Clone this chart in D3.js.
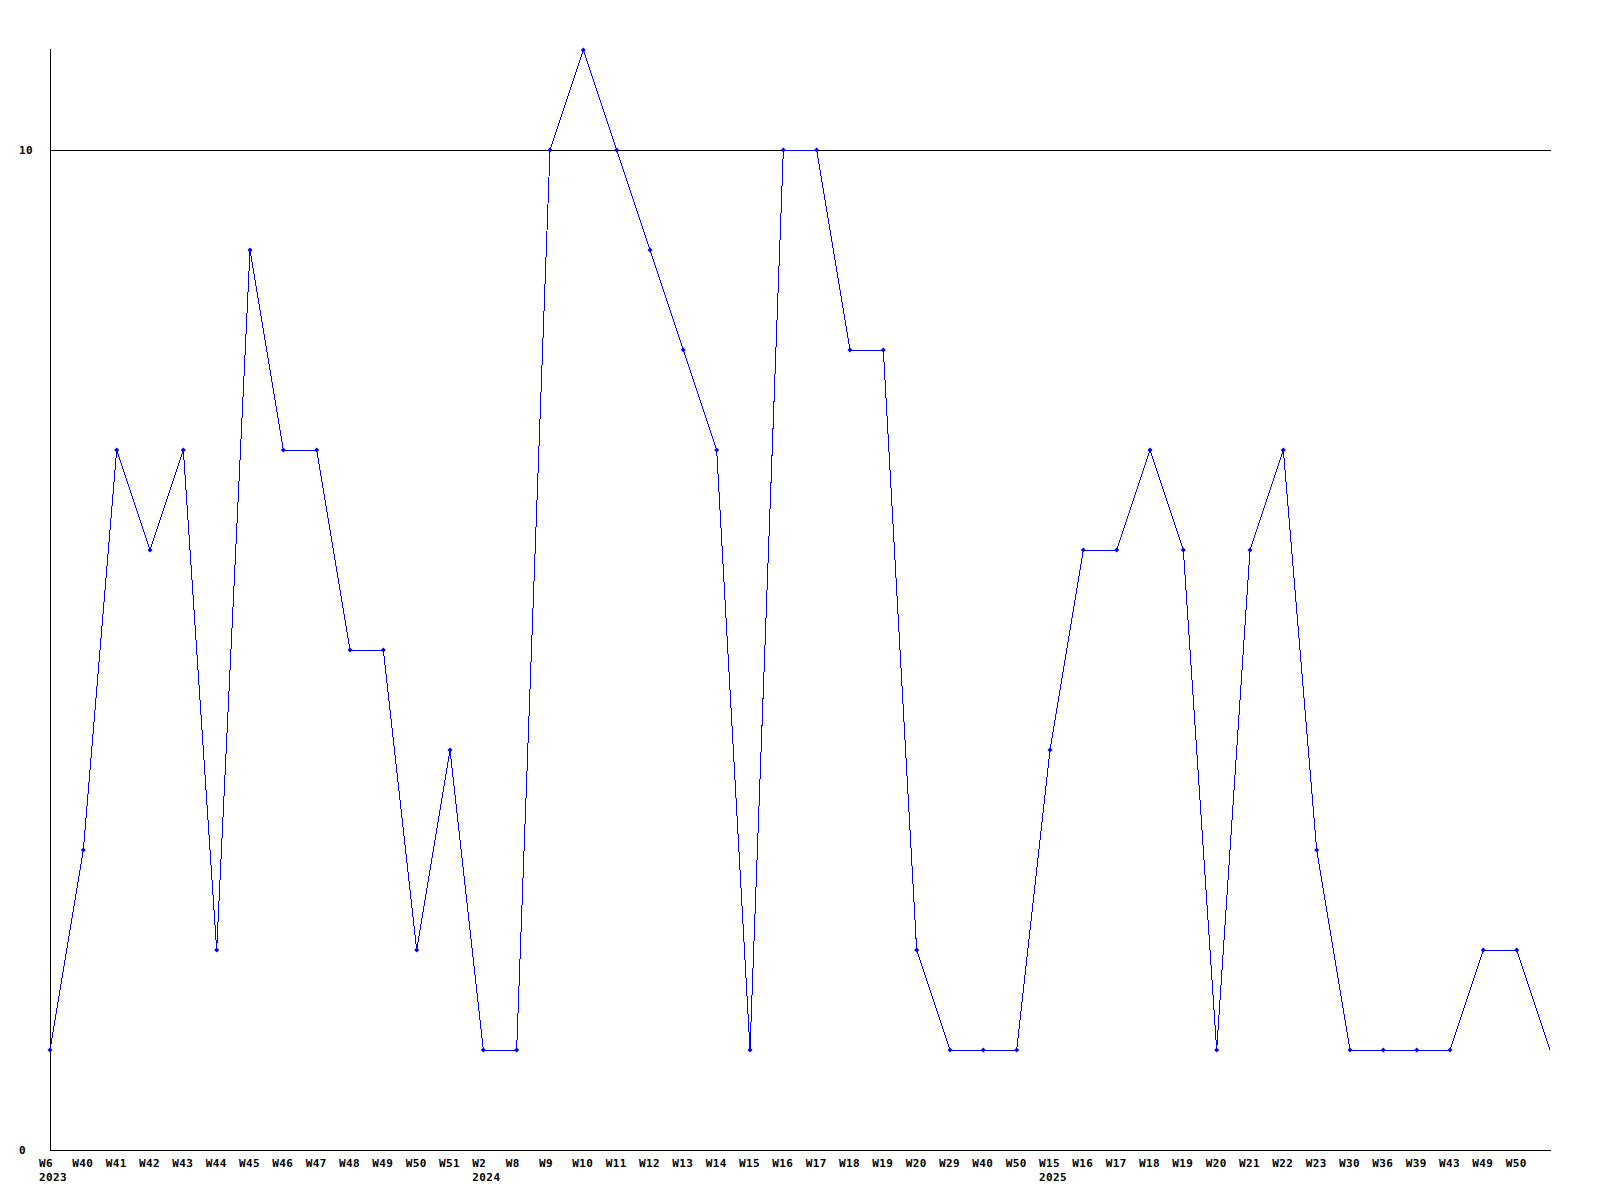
<!DOCTYPE html>
<html>
<head>
<meta charset="utf-8">
<script src="https://cdn.jsdelivr.net/npm/d3@7"></script>
<style>
  body { margin: 0; background: #fff; }
  svg { display: block; }
  text { font-family: "DejaVu Sans Mono", "Liberation Mono", monospace; font-weight: bold; font-size: 11px; letter-spacing: 0.4px; fill: #000; }
</style>
</head>
<body>
<svg id="chart" width="1600" height="1200"></svg>
<script>
const width = 1600, height = 1200;

// week labels along the x axis (last point has no label in the original)
const weeks = ["W6","W40","W41","W42","W43","W44","W45","W46","W47","W48","W49","W50","W51",
    "W2","W8","W9","W10","W11","W12","W13","W14","W15","W16","W17","W18","W19","W20","W29","W40","W50",
    "W15","W16","W17","W18","W19","W20","W21","W22","W23","W30","W36","W39","W43","W49","W50",""];
// year label shown under the first week of each year
const years = [[0, "2023"], [13, "2024"], [30, "2025"]];
const counts = [1,3,7,6,7,2,9,7,7,5,5,2,4,
    1,1,10,11,10,9,8,7,1,10,10,8,8,2,1,1,1,
    4,6,6,7,6,1,6,7,3,1,1,1,1,2,2,1];
const yTicks = [0, 10];

const svg = d3.select("#chart");

const x = d3.scalePoint()
    .domain(d3.range(counts.length))
    .range([50, 1550]);

const y = d3.scaleLinear()
    .domain([0, 11])
    .range([1150, 50]);

// gridline at 10
svg.selectAll(".grid")
    .data(yTicks.filter(d => d > 0))
    .join("line")
    .attr("x1", 50).attr("x2", 1551)
    .attr("y1", d => y(d) + 0.5).attr("y2", d => y(d) + 0.5)
    .attr("stroke", "#000")
    .attr("shape-rendering", "crispEdges");

// axes lines
svg.append("line")
    .attr("x1", 50.5).attr("x2", 50.5)
    .attr("y1", 49).attr("y2", 1150.5)
    .attr("stroke", "#000").attr("shape-rendering", "crispEdges");
svg.append("line")
    .attr("x1", 50).attr("x2", 1551)
    .attr("y1", 1150.5).attr("y2", 1150.5)
    .attr("stroke", "#000").attr("shape-rendering", "crispEdges");

// y tick labels
svg.selectAll(".ylab")
    .data(yTicks)
    .join("text")
    .attr("x", 19)
    .attr("y", d => y(d) + 3.5)
    .text(d => d);

// x tick labels
svg.selectAll(".xlab")
    .data(weeks)
    .join("text")
    .attr("x", (d, i) => x(i) - 11)
    .attr("y", 1167)
    .text(d => d);

svg.selectAll(".yearlab")
    .data(years)
    .join("text")
    .attr("x", d => x(d[0]) - 11)
    .attr("y", 1181)
    .text(d => d[1]);

// the line
const line = d3.line()
    .x((d, i) => x(i))
    .y(d => y(d));

svg.append("path")
    .datum(counts)
    .attr("d", line)
    .attr("fill", "none")
    .attr("stroke", "#0000ff")
    .attr("stroke-width", 1)
    .attr("shape-rendering", "crispEdges");

// small diamond markers
svg.selectAll(".pt")
    .data(counts.slice(0, -1))
    .join("path")
    .attr("d", (d, i) => {
        const cx = x(i), cy = y(d);
        return `M${cx},${cy - 2.5}L${cx + 2.5},${cy}L${cx},${cy + 2.5}L${cx - 2.5},${cy}Z`;
    })
    .attr("fill", "#0000ff");
</script>
</body>
</html>
